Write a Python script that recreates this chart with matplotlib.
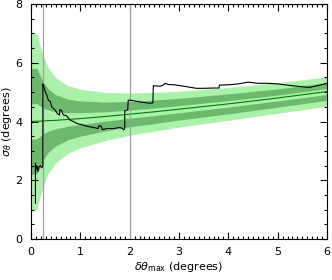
import numpy as np
import matplotlib
matplotlib.use("Agg")
import matplotlib.pyplot as plt
from matplotlib.ticker import MultipleLocator

# band model: centre line and half-widths
band_x = [0.0, 0.12, 0.18, 0.25, 0.35, 0.5, 0.75, 1.0, 1.5, 2.0, 2.5, 3.0, 4.0, 5.0, 6.0]
band_mid = [4.0, 4.01, 4.01, 4.02, 4.03, 4.04, 4.07, 4.1, 4.17, 4.25, 4.33, 4.42, 4.6, 4.8, 5.02]
light_half = [3.0, 3.0, 2.6, 2.2, 1.8, 1.45, 1.15, 1.0, 0.82, 0.72, 0.66, 0.61, 0.56, 0.52, 0.5]
dark_half = [1.8, 1.8, 1.56, 1.32, 1.08, 0.87, 0.69, 0.6, 0.49, 0.43, 0.4, 0.37, 0.34, 0.31, 0.3]
inner_half = [0.6, 0.6, 0.52, 0.44, 0.36, 0.29, 0.23, 0.2, 0.16, 0.14, 0.13, 0.12, 0.11, 0.1, 0.1]

# measured sigma curve
meas_x = [0.09, 0.09, 0.10, 0.12, 0.14, 0.16, 0.19, 0.22, 0.24, 0.24, 0.26, 0.29, 0.32,
          0.35, 0.39, 0.42, 0.45, 0.49, 0.52, 0.55, 0.58, 0.58, 0.62, 0.64, 0.66, 0.72,
          0.79, 0.86, 0.93, 0.99, 1.13, 1.26, 1.36, 1.38, 1.42, 1.45, 1.53, 1.67, 1.8,
          1.85, 1.88, 1.90, 1.90, 1.94, 1.96, 1.97, 2.0, 2.2, 2.41, 2.47, 2.48, 2.62,
          2.68, 2.72, 2.78, 2.9, 3.1, 3.35, 3.5, 3.7, 3.81, 3.82, 4.0, 4.2, 4.4, 4.6,
          4.8, 5.0, 5.23, 5.4, 5.64, 5.75, 5.85, 5.95, 6.0]
meas_y = [1.22, 2.58, 2.35, 2.5, 2.3, 2.45, 2.5, 2.42, 2.5, 5.28, 5.2, 5.0, 4.9, 4.73,
          4.68, 4.5, 4.45, 4.39, 4.3, 4.25, 4.22, 4.4, 4.38, 4.28, 4.22, 4.2, 4.05, 4.0,
          3.93, 3.91, 3.84, 3.8, 3.76, 3.86, 3.84, 3.72, 3.76, 3.76, 3.8, 3.76, 3.72,
          3.76, 4.36, 4.38, 4.4, 4.72, 4.73, 4.67, 4.62, 4.64, 5.22, 5.2, 5.24, 5.3,
          5.26, 5.25, 5.2, 5.13, 5.13, 5.14, 5.14, 5.24, 5.25, 5.28, 5.34, 5.3, 5.3,
          5.28, 5.23, 5.2, 5.16, 5.2, 5.24, 5.28, 5.3]

vlines_x = [0.25, 2.0]

bx = np.array(band_x)
mid = np.array(band_mid)
lh = np.array(light_half)
dh = np.array(dark_half)
ih = np.array(inner_half)

light = "#aaf2aa"
dark = "#6cb86c"

fig = plt.figure(figsize=(3.32, 2.80), dpi=100)
ax = fig.add_axes([0.0934, 0.1464, 0.8916, 0.8393])

ax.fill_between(bx, mid - lh, mid + lh, color=light, lw=0)
ax.fill_between(bx, mid - dh, mid + dh, color=dark, lw=0)
ax.fill_between(bx, mid - ih, mid + ih, color=light, lw=0)
ax.plot(bx, mid, color="#007a00", lw=0.8)

for xv in vlines_x:
    ax.axvline(xv, color="#a0a0a0", lw=0.9)

ax.plot(meas_x, meas_y, color="k", lw=0.8)

ax.set_xlim(0, 6)
ax.set_ylim(0, 8)
ax.xaxis.set_major_locator(MultipleLocator(1))
ax.xaxis.set_minor_locator(MultipleLocator(0.1))
ax.yaxis.set_major_locator(MultipleLocator(2))
ax.yaxis.set_minor_locator(MultipleLocator(0.5))
ax.tick_params(which="both", direction="in", top=True, right=True, width=0.8,
               labelsize=8, pad=6)
ax.tick_params(which="major", length=5)
ax.tick_params(which="minor", length=2.5)
for s in ax.spines.values():
    s.set_linewidth(0.8)

ax.set_xlabel(r"$\delta\theta_{\rm max}$ (degrees)", fontsize=8, labelpad=2)
ax.set_ylabel(r"$\sigma_\theta$ (degrees)", fontsize=8, labelpad=1)

fig.savefig("out.png", dpi=100)
